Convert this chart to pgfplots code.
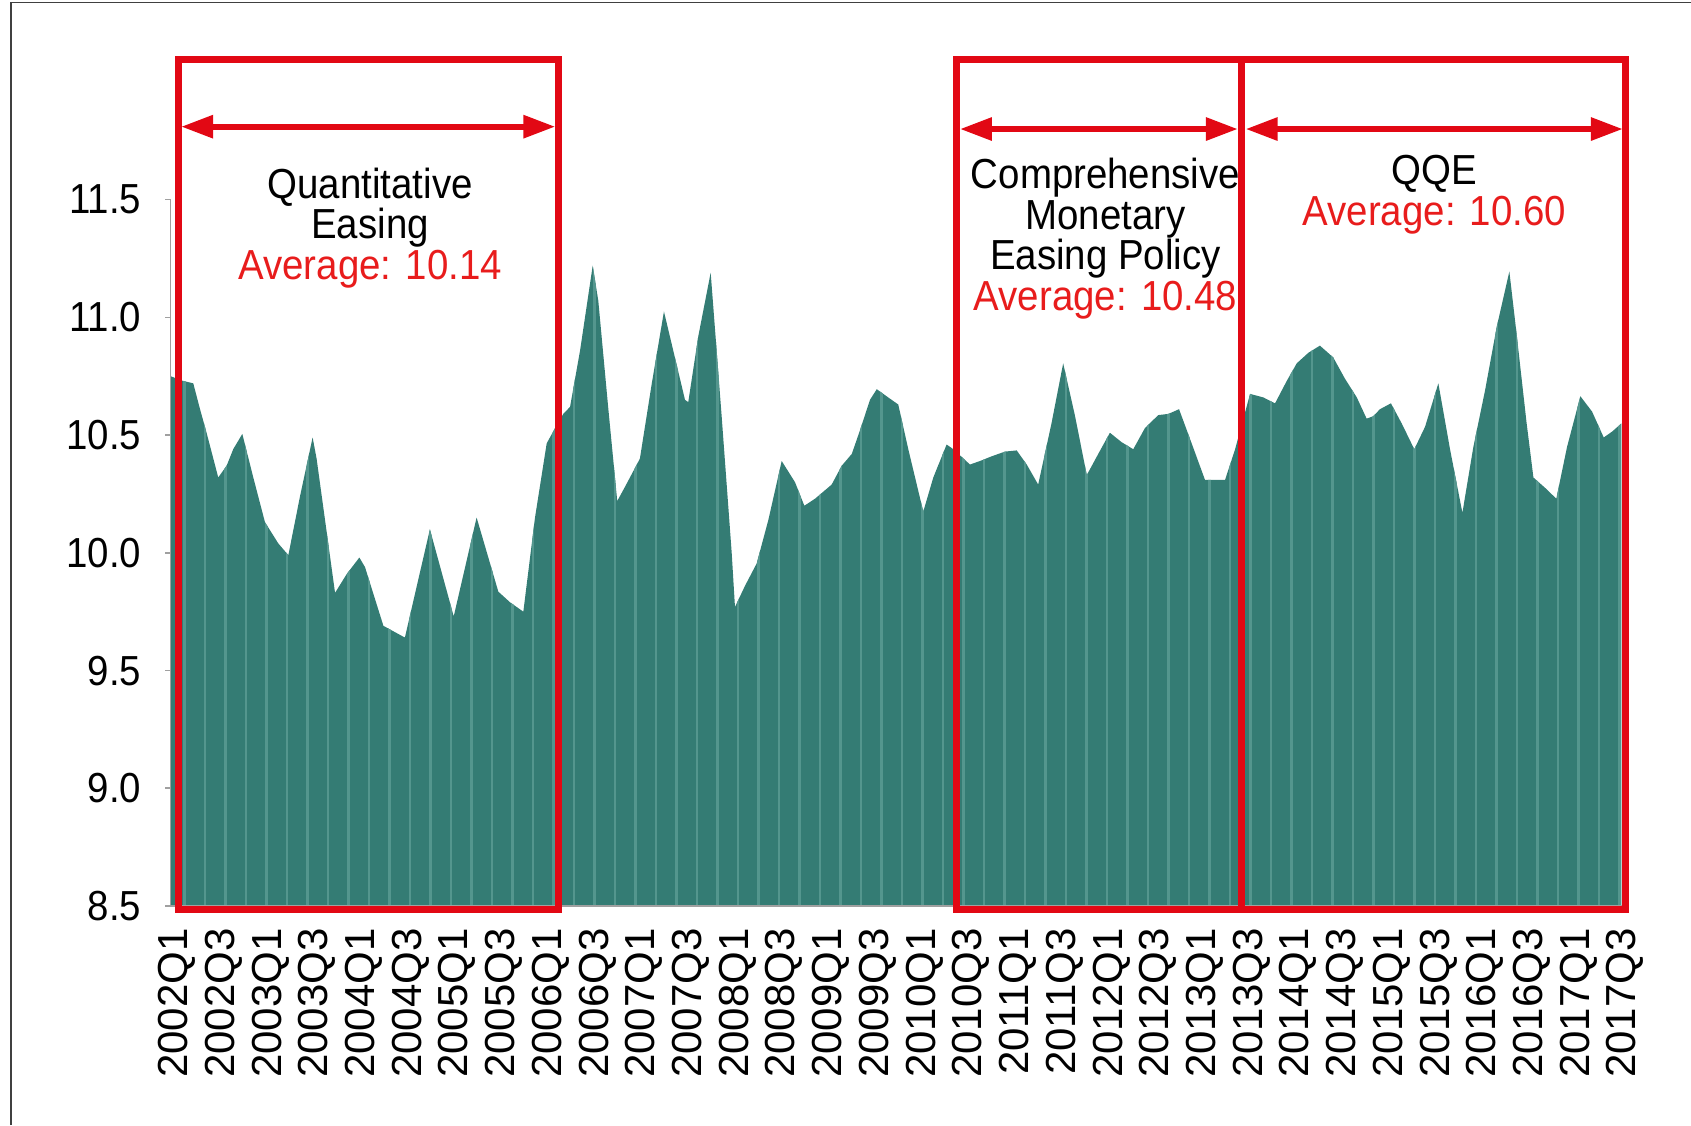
\documentclass[border=0pt]{standalone}
\usepackage{fontspec}
\setmainfont{Liberation Sans}[FakeStretch=0.915]
\newfontfamily\tickfont{Liberation Sans}
\usepackage{pgfplots}
\pgfplotsset{compat=1.18}
\usetikzlibrary{arrows.meta,patterns.meta}
\definecolor{areafill}{RGB}{52,124,116}
\definecolor{stripe}{RGB}{84,150,142}
\definecolor{boxred}{RGB}{226,8,20}
\definecolor{txtred}{RGB}{232,28,28}
\definecolor{axgray}{RGB}{160,160,160}

\pgfplotstableread{
x y
-0.27 8.5
-0.27 10.75
0.27 10.73
0.70 10.72
0.99 10.61
1.27 10.51
1.77 10.32
2.13 10.37
2.41 10.44
2.80 10.505
3.27 10.32
3.77 10.13
4.34 10.04
4.77 9.99
5.27 10.24
5.81 10.49
5.98 10.40
6.77 9.83
7.27 9.91
7.81 9.98
8.05 9.94
8.84 9.69
9.76 9.64
10.83 10.10
11.85 9.73
12.83 10.15
13.76 9.835
14.26 9.79
14.83 9.75
15.33 10.15
15.83 10.465
16.19 10.53
16.54 10.59
16.83 10.62
17.26 10.86
17.80 11.22
18.04 11.07
18.47 10.61
18.85 10.22
19.18 10.28
19.82 10.40
20.33 10.72
20.85 11.025
21.75 10.65
21.89 10.64
22.32 10.92
22.85 11.19
23.32 10.58
23.75 10.00
23.89 9.77
24.32 9.86
24.82 9.955
25.32 10.14
25.89 10.39
26.46 10.30
26.86 10.20
27.32 10.23
28.03 10.29
28.46 10.37
28.89 10.42
29.24 10.52
29.67 10.65
29.96 10.695
30.45 10.66
30.88 10.63
31.31 10.44
31.95 10.175
32.38 10.32
32.95 10.46
33.24 10.44
33.95 10.375
34.38 10.39
34.88 10.41
35.45 10.43
35.95 10.435
36.38 10.375
36.87 10.29
37.44 10.55
37.94 10.805
38.45 10.58
38.95 10.33
39.44 10.42
39.94 10.51
40.44 10.47
40.94 10.44
41.44 10.53
42.01 10.585
42.44 10.59
42.90 10.61
43.44 10.465
44.01 10.31
44.87 10.31
45.30 10.44
45.94 10.675
46.51 10.66
47.01 10.635
47.51 10.73
47.94 10.805
48.44 10.85
48.93 10.88
49.50 10.83
50.00 10.74
50.51 10.66
50.93 10.57
51.21 10.58
51.50 10.61
51.97 10.635
52.43 10.55
52.97 10.44
53.43 10.535
54.00 10.72
54.50 10.44
55.03 10.17
55.50 10.45
56.00 10.69
56.50 10.96
57.04 11.195
57.35 10.93
57.78 10.55
58.07 10.32
58.58 10.275
59.05 10.23
59.51 10.45
60.08 10.665
60.58 10.60
61.08 10.49
61.44 10.515
61.84 10.55
61.84 8.5
}\datatable

\begin{document}
\begin{tikzpicture}
\path[use as bounding box] (0,0) rectangle (845.5pt,562.5pt);
\draw[line width=0.8pt, black!75] (5.4pt,0) -- (5.4pt,561.2pt) -- (845.5pt,561.2pt);
\begin{axis}[
  at={(85.3pt,109.5pt)}, anchor=south west,
  scale only axis, width=727.3pt, height=423.8pt,
  xmin=-0.27, xmax=62, ymin=8.5, ymax=12.1,
  clip=false,
  axis line style={draw=none},
  xtick={0,2,...,62},
  xticklabels={2002Q1,2002Q3,2003Q1,2003Q3,2004Q1,2004Q3,2005Q1,2005Q3,2006Q1,2006Q3,2007Q1,2007Q3,2008Q1,2008Q3,2009Q1,2009Q3,2010Q1,2010Q3,2011Q1,2011Q3,2012Q1,2012Q3,2013Q1,2013Q3,2014Q1,2014Q3,2015Q1,2015Q3,2016Q1,2016Q3,2017Q1,2017Q3},
  xtick style={draw=none},
  xticklabel style={yshift=-11pt, rotate=90, anchor=east, inner sep=0pt, font=\tickfont\fontsize{21}{21}\selectfont},
  ytick={8.5,9,9.5,10,10.5,11,11.5},
  yticklabels={8.5,9.0,9.5,10.0,10.5,11.0,11.5},
  ytick style={draw=none},
  yticklabel style={anchor=east, inner sep=0pt, xshift=-14.5pt, font=\fontsize{21}{21}\selectfont},
  /pgf/number format/assume math mode=true,
]
\addplot[draw=none, fill=areafill,
  postaction={pattern={Lines[angle=90,distance=10.25pt,line width=1.1pt]}, pattern color=stripe}]
  table[x=x,y=y]{\datatable} -- cycle;
% axis lines
\draw[axgray, line width=0.8pt] (axis cs:-0.27,8.5) -- (axis cs:-0.27,11.5);
\draw[axgray, line width=1.4pt] (axis cs:-0.27,8.5) -- (axis cs:62,8.5);
\pgfplotsinvokeforeach{8.5,9.0,9.5,10.0,10.5,11.0,11.5}{
  \draw[axgray, line width=0.8pt] (axis cs:-0.27,#1) -- (axis cs:-0.49,#1);
}
% boxes
\draw[boxred, line width=3.5pt] (axis cs:0.06,8.487) rectangle (axis cs:16.33,12.097);
\draw[boxred, line width=3.5pt] (axis cs:33.38,8.487) rectangle (axis cs:45.58,12.097);
\draw[boxred, line width=3.5pt] (axis cs:45.58,8.487) rectangle (axis cs:62.02,12.097);
% arrows
\draw[boxred, line width=3pt, {Triangle[length=16pt,width=11pt]}-{Triangle[length=16pt,width=11pt]}]
  (axis cs:0.18,11.81) -- (axis cs:16.2,11.81);
\draw[boxred, line width=3pt, {Triangle[length=16pt,width=11pt]}-{Triangle[length=16pt,width=11pt]}]
  (axis cs:33.52,11.80) -- (axis cs:45.42,11.80);
\draw[boxred, line width=3pt, {Triangle[length=16pt,width=11pt]}-{Triangle[length=16pt,width=11pt]}]
  (axis cs:45.75,11.80) -- (axis cs:61.9,11.80);
% texts
\node[align=center, font=\fontsize{21}{20.3}\selectfont, inner sep=0pt] at (axis cs:8.27,11.38)
  {Quantitative\\Easing\\\textcolor{txtred}{Average: 10.14}};
\node[align=center, font=\fontsize{21}{20.3}\selectfont, inner sep=0pt] at (axis cs:39.75,11.335)
  {Comprehensive\\Monetary\\Easing Policy\\\textcolor{txtred}{Average: 10.48}};
\node[align=center, font=\fontsize{21}{20.3}\selectfont, inner sep=0pt] at (axis cs:53.83,11.52)
  {QQE\\\textcolor{txtred}{Average: 10.60}};
\end{axis}
\end{tikzpicture}
\end{document}
